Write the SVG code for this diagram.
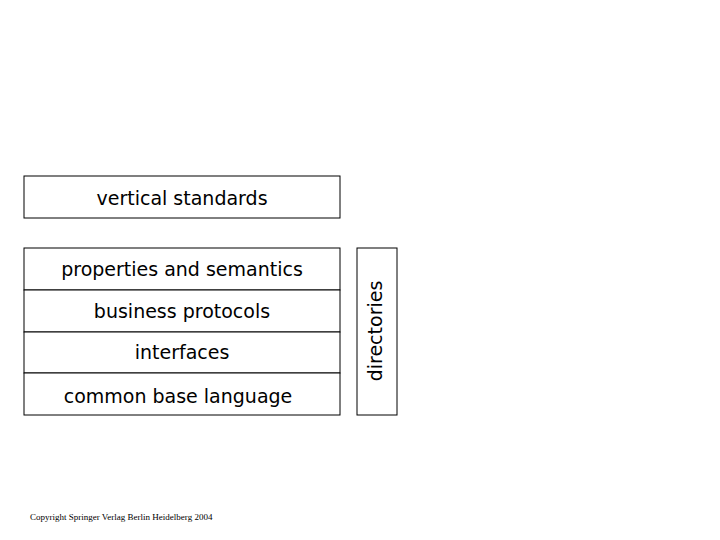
<svg xmlns="http://www.w3.org/2000/svg" width="720" height="540" viewBox="0 0 720 540">
<style>
.b{fill:#fff;stroke:#000;stroke-width:1}
.t{font-family:"DejaVu Sans",sans-serif;font-size:19px;fill:#000;text-anchor:middle}
.c{font-family:"Liberation Serif",serif;font-size:9px;fill:#000}
</style>
<rect width="720" height="540" fill="#fff"/>
<g id="vertical"><rect class="b" x="24" y="176" width="316" height="42"/><text class="t" x="182" y="205">vertical standards</text></g>
<g id="properties"><rect class="b" x="24" y="248" width="316" height="42"/><text class="t" x="182" y="276">properties and semantics</text></g>
<g id="business"><rect class="b" x="24" y="290" width="316" height="42"/><text class="t" x="182" y="318">business protocols</text></g>
<g id="interfaces"><rect class="b" x="24" y="332" width="316" height="41"/><text class="t" x="182" y="359">interfaces</text></g>
<g id="common"><rect class="b" x="24" y="373" width="316" height="42"/><text class="t" x="178" y="403">common base language</text></g>
<g id="directories"><rect class="b" x="357" y="248" width="40" height="167"/><text class="t" transform="translate(382,331) rotate(-90)">directories</text></g>
<g id="connectors"/>
<text class="c" x="30" y="520">Copyright Springer Verlag Berlin Heidelberg 2004</text>
</svg>
